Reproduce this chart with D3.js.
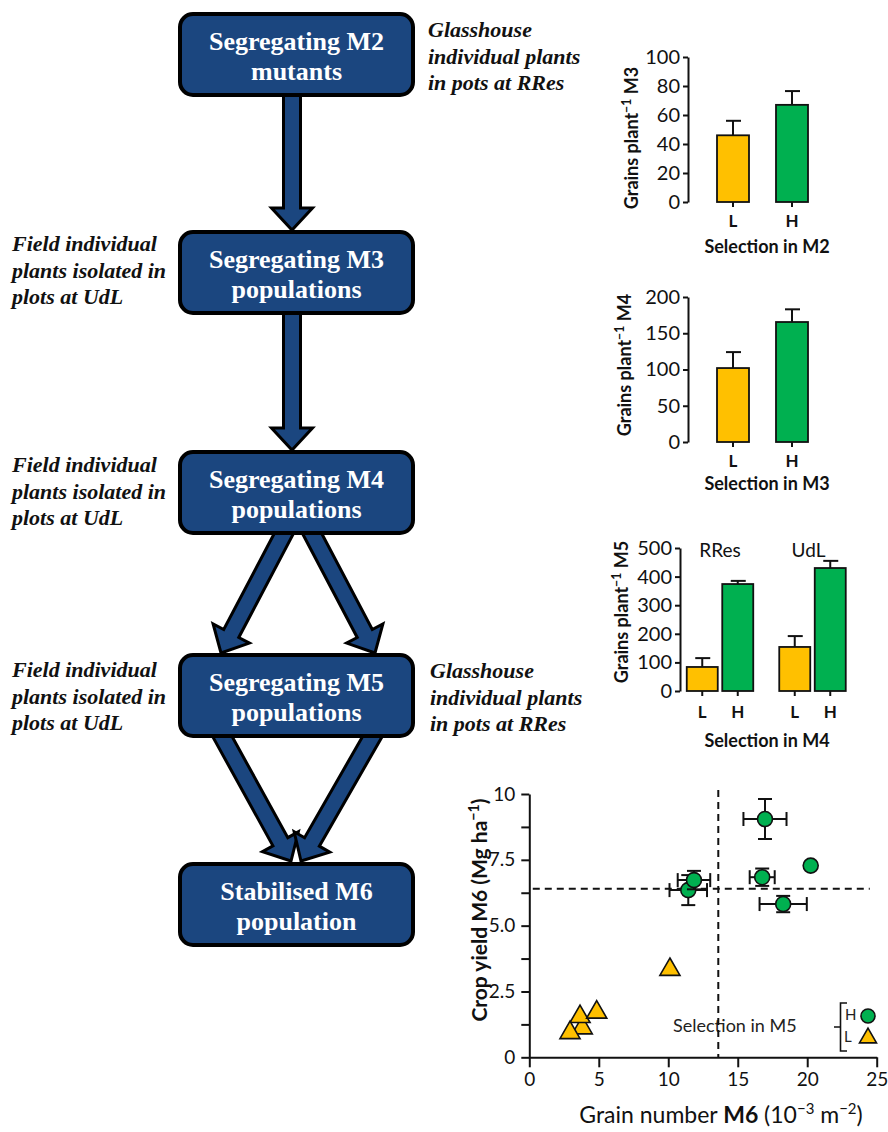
<!DOCTYPE html>
<html><head><meta charset="utf-8">
<script src="https://cdn.jsdelivr.net/npm/d3@7"></script>
<style>body{margin:0;background:#fff}svg{display:block}</style>
</head><body><svg id="c" width="888" height="1132"></svg>
<script>
// ---------- data ----------
const flowBoxes = [
  ["Segregating M2","mutants"],
  ["Segregating M3","populations"],
  ["Segregating M4","populations"],
  ["Segregating M5","populations"],
  ["Stabilised M6","population"]
];
const fieldNote = ["Field individual","plants isolated in","plots at UdL"];
const glassNote = ["Glasshouse","individual plants","in pots at RRes"];

const selCats = ["L","H"];
const m3Vals = [46, 67];
const m3Err  = [10, 9.5];
const m3Ticks = [0,20,40,60,80,100];

const m4Vals = [102, 165.5];
const m4Err  = [22, 17.5];
const m4Ticks = [0,50,100,150,200];

const m5Groups = ["RRes","UdL"];
const m5RResVals = [84, 374];
const m5RResErr  = [31, 11];
const m5UdLVals  = [154, 430];
const m5UdLErr   = [38, 25];
const m5Ticks = [0,100,200,300,400,500];

// M6 scatter: grain number (10^-3 m^-2), crop yield (Mg ha^-1)
const highX  = [11.44, 11.85, 16.96, 20.25, 16.76, 18.27];
const highY  = [6.35, 6.73, 9.05, 7.28, 6.84, 5.82];
const highXe = [1.35, 1.17, 1.55, 0, 0.9, 1.7];
const highYe = [0.57, 0.35, 0.76, 0, 0.33, 0.31];
const lowX   = [3.81, 3.65, 2.93, 4.85, 10.12];
const lowY   = [1.11, 1.54, 0.93, 1.71, 3.33];
const grainTicks = [0,5,10,15,20,25];
const yieldTicks = [0,1.25,2.5,3.75,5,6.25,7.5,8.75,10];
const yieldLabels = {0:"0",2.5:"2.5",5:"5.0",7.5:"7.5",10:"10"};
const grainThreshold = 13.6;
const yieldThreshold = 6.4;

const YELLOW = "#FFC000", GREEN = "#00B050", NAVY = "#1b467f";
const SANS = "Lato, 'Open Sans', sans-serif";
const SERIF = "'Liberation Serif', 'DejaVu Serif', serif";

const svg = d3.select("#c");

// ---------- flowchart ----------
const boxX0 = 180, boxX1 = 413, boxH = 81;
const boxTops = [14, 232, 452, 655, 864];
const cx = (boxX0 + boxX1) / 2;

function arrowPath(x1, y1, x2, y2) {
  const dx = x2 - x1, dy = y2 - y1, L = Math.hypot(dx, dy);
  const ux = dx / L, uy = dy / L, px = -uy, py = ux;
  const sw = 8.5, hw = 20.5, hl = 22;
  const bx = x2 - ux * hl, by = y2 - uy * hl;
  const pts = [
    [x1 + px*sw, y1 + py*sw], [bx + px*sw, by + py*sw], [bx + px*hw, by + py*hw],
    [x2, y2], [bx - px*hw, by - py*hw], [bx - px*sw, by - py*sw], [x1 - px*sw, y1 - py*sw]
  ];
  return "M" + pts.map(p => p.join(",")).join("L") + "Z";
}
const arrows = [
  [292, 80, 292, 230],
  [292, 300, 292, 450],
  [291, 520, 221, 653],
  [305, 520, 375, 653],
  [216, 725, 291, 861],
  [379, 725, 301, 861]
];
svg.append("g").selectAll("path").data(arrows).join("path")
  .attr("d", d => arrowPath(...d))
  .attr("fill", NAVY).attr("stroke", "#000").attr("stroke-width", 3)
  .attr("stroke-linejoin", "miter");

const bx = svg.append("g").selectAll("g").data(flowBoxes).join("g");
bx.append("rect")
  .attr("x", boxX0).attr("y", (d, i) => boxTops[i])
  .attr("width", boxX1 - boxX0).attr("height", boxH)
  .attr("rx", 13).attr("fill", NAVY).attr("stroke", "#000").attr("stroke-width", 4);
bx.each(function(d, i) {
  d3.select(this).selectAll("text").data(d).join("text")
    .attr("x", cx).attr("y", (t, j) => boxTops[i] + 36 + j * 30)
    .attr("text-anchor", "middle").attr("fill", "#fff")
    .attr("font-family", SERIF).attr("font-weight", "bold").attr("font-size", 26)
    .text(t => t);
});

function note(lines, x, y0) {
  svg.append("g").selectAll("text").data(lines).join("text")
    .attr("x", x).attr("y", (t, j) => y0 + j * 26.5)
    .attr("font-family", SERIF).attr("font-style", "italic").attr("font-weight", "bold")
    .attr("font-size", 22).attr("fill", "#111").text(t => t);
}
note(glassNote, 428, 37);
note(fieldNote, 12, 251);
note(fieldNote, 12, 472);
note(fieldNote, 12, 677);
note(glassNote, 430, 678);

// ---------- helper: y label with superscript ----------
function yLabel(x, y, base, sup, tail, fs) {
  fs = fs || 18;
  const t = svg.append("text")
    .attr("transform", `translate(${x},${y}) rotate(-90)`)
    .attr("text-anchor", "middle").attr("font-family", SANS)
    .attr("font-weight", "bold").attr("font-size", fs).attr("fill", "#111");
  t.append("tspan").text(base);
  t.append("tspan").attr("dy", -fs*0.4).attr("font-size", fs*0.68).text(sup);
  t.append("tspan").attr("dy", fs*0.4).text(tail);
}

function styleAxis(g, fs) {
  g.selectAll("path,line").attr("stroke", "#111").attr("stroke-width", 2);
  g.selectAll("text").attr("font-family", SANS).attr("font-size", fs).attr("fill", "#111");
}

// ---------- bar charts M3, M4 ----------
function simpleBar(vals, errs, ticks, y0, y1, selLabel, yl, ylx, yly, lblY, selY) {
  const x = d3.scaleBand().domain(selCats).range([717, 808]).paddingInner(27/59).paddingOuter(0);
  const y = d3.scaleLinear().domain([0, ticks[ticks.length-1]]).range([y0, y1]);
  const ga = svg.append("g").attr("transform", "translate(688,0)")
    .call(d3.axisLeft(y).tickValues(ticks).tickSize(5).tickSizeOuter(0).tickPadding(3));
  styleAxis(ga, 20);
  const g = svg.append("g");
  selCats.forEach((c, i) => {
    const xc = x(c) + x.bandwidth()/2;
    g.append("line").attr("x1", xc).attr("x2", xc).attr("y1", y(0)).attr("y2", y(0)+5)
      .attr("stroke", "#111").attr("stroke-width", 2);
    g.append("line").attr("x1", xc).attr("x2", xc).attr("y1", y(vals[i])).attr("y2", y(vals[i]+errs[i]))
      .attr("stroke", "#111").attr("stroke-width", 2);
    g.append("line").attr("x1", xc-7).attr("x2", xc+8).attr("y1", y(vals[i]+errs[i])).attr("y2", y(vals[i]+errs[i]))
      .attr("stroke", "#111").attr("stroke-width", 2);
    g.append("rect").attr("x", x(c)).attr("width", x.bandwidth())
      .attr("y", y(vals[i])).attr("height", y(0) - y(vals[i]))
      .attr("fill", i === 0 ? YELLOW : GREEN).attr("stroke", "#111").attr("stroke-width", 1.8);
    g.append("text").attr("x", xc).attr("y", lblY).attr("text-anchor", "middle")
      .attr("font-family", SANS).attr("font-weight", "bold").attr("font-size", 17).attr("fill", "#111").text(c);
  });
  svg.append("text").attr("x", 767).attr("y", selY).attr("text-anchor", "middle")
    .attr("font-family", SANS).attr("font-weight", "bold").attr("font-size", 18).attr("fill", "#111").text(selLabel);
  yLabel(ylx, yly, "Grains plant", "\u22121", " " + yl);
}
simpleBar(m3Vals, m3Err, m3Ticks, 202, 57, "Selection in M2", "M3", 638, 138, 227, 253);
simpleBar(m4Vals, m4Err, m4Ticks, 442, 297, "Selection in M3", "M4", 631, 365, 467, 490);

// ---------- bar chart M5 ----------
(function() {
  const xg = d3.scaleBand().domain(m5Groups).range([686.75, 845.75]).paddingInner(26/92.5).paddingOuter(0);
  const xi = d3.scaleBand().domain(selCats).range([0, xg.bandwidth()]).paddingInner(4.5/35.5).paddingOuter(0);
  const y = d3.scaleLinear().domain([0, 500]).range([691, 548]);
  const ga = svg.append("g").attr("transform", "translate(680,0)")
    .call(d3.axisLeft(y).tickValues(m5Ticks).tickSize(5).tickSizeOuter(0).tickPadding(3));
  styleAxis(ga, 20);
  const series = [[m5RResVals, m5RResErr], [m5UdLVals, m5UdLErr]];
  const g = svg.append("g");
  m5Groups.forEach((grp, gi) => {
    const [vals, errs] = series[gi];
    selCats.forEach((c, i) => {
      const x0 = xg(grp) + xi(c), xc = x0 + xi.bandwidth()/2;
      g.append("line").attr("x1", xc).attr("x2", xc).attr("y1", y(0)).attr("y2", y(0)+5)
        .attr("stroke", "#111").attr("stroke-width", 2);
      g.append("line").attr("x1", xc).attr("x2", xc).attr("y1", y(vals[i])).attr("y2", y(vals[i]+errs[i]))
        .attr("stroke", "#111").attr("stroke-width", 2);
      g.append("line").attr("x1", xc-7).attr("x2", xc+8).attr("y1", y(vals[i]+errs[i])).attr("y2", y(vals[i]+errs[i]))
        .attr("stroke", "#111").attr("stroke-width", 2);
      g.append("rect").attr("x", x0).attr("width", xi.bandwidth())
        .attr("y", y(vals[i])).attr("height", y(0) - y(vals[i]))
        .attr("fill", i === 0 ? YELLOW : GREEN).attr("stroke", "#111").attr("stroke-width", 1.8);
      g.append("text").attr("x", xc).attr("y", 718).attr("text-anchor", "middle")
        .attr("font-family", SANS).attr("font-weight", "bold").attr("font-size", 17).attr("fill", "#111").text(c);
    });
    g.append("text").attr("x", xg(grp) + xg.bandwidth()/2 + (gi === 0 ? 0 : -4)).attr("y", 557)
      .attr("text-anchor", "middle").attr("font-family", SANS).attr("font-size", 19).attr("fill", "#111").text(grp);
  });
  svg.append("text").attr("x", 767).attr("y", 747).attr("text-anchor", "middle")
    .attr("font-family", SANS).attr("font-weight", "bold").attr("font-size", 18).attr("fill", "#111").text("Selection in M4");
  yLabel(628, 612, "Grains plant", "\u22121", " M5");
})();

// ---------- scatter M6 ----------
(function() {
  const x = d3.scaleLinear().domain([0, 25]).range([529.3, 876.7]);
  const y = d3.scaleLinear().domain([0, 10]).range([1057.3, 794]);
  const gx = svg.append("g").attr("transform", "translate(0,1057.3)")
    .call(d3.axisBottom(x).tickValues(grainTicks).tickSize(10).tickSizeOuter(0).tickPadding(5).tickFormat(d3.format("d")));
  styleAxis(gx, 19);
  const gy = svg.append("g").attr("transform", "translate(529.3,0)")
    .call(d3.axisLeft(y).tickValues(yieldTicks).tickSize(8).tickSizeOuter(0).tickPadding(6)
      .tickFormat(d => yieldLabels[d] !== undefined ? yieldLabels[d] : ""));
  styleAxis(gy, 19);

  // legend text (under dashed line)
  svg.append("text").attr("x", 673).attr("y", 1032).attr("font-family", SANS)
    .attr("font-size", 18).attr("fill", "#222").text("Selection in M5");

  // dashed thresholds
  svg.append("line").attr("x1", x(grainThreshold)).attr("x2", x(grainThreshold))
    .attr("y1", y(10.15)).attr("y2", y(0)).attr("stroke", "#111").attr("stroke-width", 2).attr("stroke-dasharray", "7,5");
  svg.append("line").attr("x1", x(0.25)).attr("x2", x(24.5))
    .attr("y1", y(yieldThreshold)).attr("y2", y(yieldThreshold)).attr("stroke", "#111").attr("stroke-width", 2).attr("stroke-dasharray", "7,5");

  const tri = d3.symbol().type(d3.symbolTriangle).size(175);
  const triSmall = d3.symbol().type(d3.symbolTriangle).size(125);
  svg.append("g").selectAll("path").data(lowX).join("path")
    .attr("d", tri).attr("transform", (d, i) => `translate(${x(d)},${y(lowY[i])})`)
    .attr("fill", YELLOW).attr("stroke", "#111").attr("stroke-width", 1.6).attr("stroke-linejoin", "miter");

  highX.forEach((xv, i) => {
    const yv = highY[i], xe = highXe[i], ye = highYe[i];
    const g = svg.append("g").attr("stroke", "#111").attr("stroke-width", 2);
    if (xe > 0) {
      g.append("line").attr("x1", x(xv-xe)).attr("x2", x(xv+xe)).attr("y1", y(yv)).attr("y2", y(yv));
      g.append("line").attr("x1", x(xv-xe)).attr("x2", x(xv-xe)).attr("y1", y(yv)-7).attr("y2", y(yv)+7);
      g.append("line").attr("x1", x(xv+xe)).attr("x2", x(xv+xe)).attr("y1", y(yv)-7).attr("y2", y(yv)+7);
    }
    if (ye > 0) {
      g.append("line").attr("x1", x(xv)).attr("x2", x(xv)).attr("y1", y(yv-ye)).attr("y2", y(yv+ye));
      g.append("line").attr("x1", x(xv)-7).attr("x2", x(xv)+7).attr("y1", y(yv-ye)).attr("y2", y(yv-ye));
      g.append("line").attr("x1", x(xv)-7).attr("x2", x(xv)+7).attr("y1", y(yv+ye)).attr("y2", y(yv+ye));
    }
    g.append("circle").attr("cx", x(xv)).attr("cy", y(yv)).attr("r", 7.5)
      .attr("fill", GREEN).attr("stroke", "#111").attr("stroke-width", 1.6);
  });

  // legend bracket
  svg.append("path").attr("d", "M847,1003H840.5V1051H847M834,1027H840.5")
    .attr("fill", "none").attr("stroke", "#111").attr("stroke-width", 1.6);
  svg.append("text").attr("x", 845).attr("y", 1020).attr("font-family", SANS).attr("font-size", 15).attr("fill", "#222").text("H");
  svg.append("text").attr("x", 844).attr("y", 1042).attr("font-family", SANS).attr("font-size", 15).attr("fill", "#222").text("L");
  svg.append("circle").attr("cx", 868).attr("cy", 1016).attr("r", 7)
    .attr("fill", GREEN).attr("stroke", "#111").attr("stroke-width", 1.6);
  svg.append("path").attr("d", triSmall).attr("transform", "translate(868,1038)")
    .attr("fill", YELLOW).attr("stroke", "#111").attr("stroke-width", 1.6);

  // axis titles
  const xt = svg.append("text").attr("x", 721).attr("y", 1123).attr("text-anchor", "middle")
    .attr("font-family", SANS).attr("font-size", 23).attr("fill", "#111");
  xt.append("tspan").text("Grain number ");
  xt.append("tspan").attr("font-weight", "bold").text("M6");
  xt.append("tspan").text(" (10");
  xt.append("tspan").attr("dy", -9).attr("font-size", 15).text("\u22123");
  xt.append("tspan").attr("dy", 9).text(" m");
  xt.append("tspan").attr("dy", -9).attr("font-size", 15).text("\u22122");
  xt.append("tspan").attr("dy", 9).text(")");

  yLabel(487, 910, "Crop yield M6 (Mg ha", "\u22121", ")", 21);
})();
</script></body></html>
